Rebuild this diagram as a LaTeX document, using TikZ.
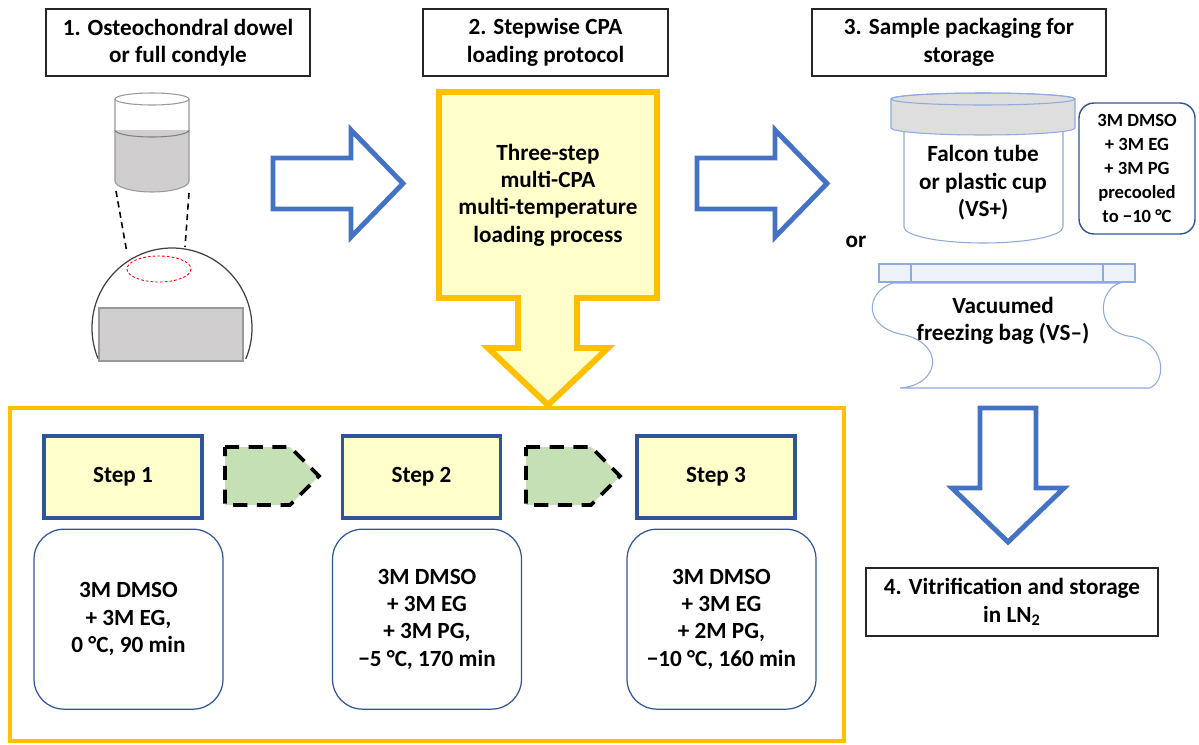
\documentclass[tikz,border=0pt]{standalone}
\usepackage{fontspec}
\setmainfont{Carlito}
\usetikzlibrary{positioning}
\definecolor{arrowblue}{HTML}{4472C4}
\definecolor{stepblue}{HTML}{2F5597}
\definecolor{gold}{HTML}{FFC000}
\definecolor{paleyellow}{HTML}{FFFFCC}
\definecolor{leafgreen}{HTML}{C5E0B4}
\definecolor{tubeblue}{HTML}{8FAADC}
\definecolor{lidgray}{HTML}{DEDEDE}
\definecolor{liquid}{HTML}{D0CECE}
\definecolor{stripblue}{HTML}{EEF2FA}

\begin{document}
\begin{tikzpicture}[x=0.02cm, y=-0.02cm, line join=miter,
  font=\bfseries\fontsize{13.2}{15.6}\selectfont,
  title/.style={draw=black!85, line width=1pt, align=center, minimum height=1.34cm},
  stepbox/.style={draw=stepblue, fill=paleyellow, line width=1.8pt, minimum width=3.16cm, minimum height=1.64cm},
  recipe/.style={draw=stepblue, line width=0.7pt, rounded corners=0.6cm, align=center, minimum width=3.78cm, minimum height=3.6cm},
  bigarrow/.style={draw=arrowblue, fill=white, line width=2.8pt},
  chevron/.style={draw=black, fill=leafgreen, line width=2.1pt, dash pattern=on 8pt off 5.5pt},
  shell/.style={draw=black!40, line width=0.6pt},
  tube/.style={draw=tubeblue, line width=0.6pt}]
\useasboundingbox (0,0) rectangle (1199,744);

% headings
\node[title, minimum width=5.28cm] (h1) at (178,42.5) {1. Osteochondral dowel\\or full condyle};
\node[title, minimum width=4.9cm] (h2) at (545.5,42.5) {2. Stepwise CPA\\loading protocol};
\node[title, minimum width=5.88cm] (h3) at (959,42.5) {3. Sample packaging for\\storage};
\node[title, minimum width=5.84cm, minimum height=1.36cm] (h4) at (1012,602) {4. Vitrification and storage\\in LN\textsubscript{2}};

% dowel
\fill[liquid] (115,130) -- (115,181) arc[start angle=180, end angle=0, x radius=37, y radius=11] -- (189,130) -- cycle;
\draw[shell] (152,99) ellipse[x radius=37, y radius=6];
\draw[shell] (115,99) -- (115,181) arc[start angle=180, end angle=0, x radius=37, y radius=11] -- (189,99);
\draw[shell, black!50] (115,130) arc[start angle=180, end angle=0, x radius=37, y radius=7];
\draw[line width=0.9pt, dash pattern=on 3.5pt off 2.5pt] (116,191) -- (127,253) (189,193) -- (185,247);

% condyle
\begin{scope}
\clip (80,230) rectangle (260,358);
\draw[black!75, line width=0.7pt] (172,328) circle[radius=80];
\end{scope}
\draw[shell, fill=liquid] (99,308) rectangle (243,361);
\draw[red, line width=0.5pt, dash pattern=on 1.5pt off 1.2pt] (159,269) ellipse[x radius=32, y radius=13];

% stage arrows
\draw[bigarrow] (273,158) -- (351,158) -- (351,130) -- (403,183.5) -- (351,237) -- (351,209) -- (273,209) -- cycle;
\draw[bigarrow] (697,158) -- (775,158) -- (775,130) -- (827,183.5) -- (775,237) -- (775,209) -- (697,209) -- cycle;
\draw[bigarrow] (980,408) -- (1036,408) -- (1036,488) -- (1064,488) -- (1008,542) -- (952,488) -- (980,488) -- cycle;

% loading protocol
\draw[gold, line width=2.8pt] (10,408) rectangle (844,741);
\draw[gold, fill=paleyellow, line width=3.4pt] (439,92) -- (657,92) -- (657,298) -- (577,298) -- (577,348) -- (608,348)
  -- (548,405) -- (488,348) -- (518,348) -- (518,298) -- (439,298) -- cycle;
\node[align=center] (proc) at (548,195) {Three-step\\multi-CPA\\multi-temperature\\loading process};

\node[stepbox] (s1) at (123,477) {Step 1};
\node[stepbox] (s2) at (421.5,477) {Step 2};
\node[stepbox] (s3) at (716,477) {Step 3};
\node[recipe, below=0.18cm of s1, xshift=0.11cm] (r1) {3M DMSO\\+ 3M EG,\\0 °C, 90 min};
\node[recipe, below=0.18cm of s2, xshift=0.11cm] (r2) {3M DMSO\\+ 3M EG\\+ 3M PG,\\−5 °C, 170 min};
\node[recipe, below=0.18cm of s3, xshift=0.11cm] (r3) {3M DMSO\\+ 3M EG\\+ 2M PG,\\−10 °C, 160 min};
\draw[chevron] (225,447) -- (290,447) -- (319,476) -- (290,505) -- (225,505) -- cycle;
\draw[chevron] (526,447) -- (591,447) -- (620,476) -- (591,505) -- (526,505) -- cycle;

% cup
\draw[tube, fill=white] (904,131) -- (904,227) arc[start angle=180, end angle=0, x radius=79.5, y radius=16] -- (1063,131);
\draw[tube, fill=lidgray] (891,99) -- (891,128) arc[start angle=180, end angle=0, x radius=92, y radius=7] -- (1075,99)
  arc[start angle=0, end angle=-180, x radius=92, y radius=6] -- cycle;
\draw[tube] (983,99) ellipse[x radius=92, y radius=6];
\node[align=center] (cup) at (983,183) {Falcon tube\\or plastic cup\\(VS+)};
\node[draw=stepblue, line width=0.8pt, rounded corners=0.3cm, minimum width=2.32cm, minimum height=2.62cm, align=center,
  font=\bfseries\fontsize{10.6}{13.6}\selectfont] (vs) at (1137,168.5) {3M DMSO\\+ 3M EG\\+ 3M PG\\precooled\\to −10 °C};
\node (or) at (856,242) {or};

% bag
\draw[tube, fill=stripblue] (879,264) rectangle (1135,282) (911,264) -- (911,282) (1103,264) -- (1103,282);
\draw[tube, fill=white] (893,283) .. controls (865,292) and (862,328) .. (905,335)
  .. controls (945,345) and (940,385) .. (900,388) -- (1150,388)
  .. controls (1168,380) and (1165,340) .. (1128,336)
  .. controls (1095,330) and (1098,290) .. (1120,283) -- cycle;
\node[align=center] (bag) at (1003,321) {Vacuumed\\freezing bag (VS–)};
\end{tikzpicture}
\end{document}
